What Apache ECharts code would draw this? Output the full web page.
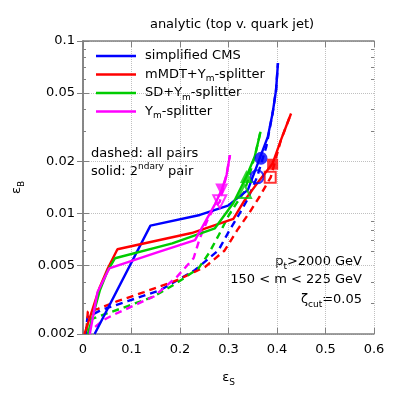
<!DOCTYPE html>
<html>
<head>
<meta charset="utf-8">
<script src="https://cdn.jsdelivr.net/npm/echarts@6/dist/echarts.min.js"></script>
<style>
html, body { margin: 0; padding: 0; background: #fff; }
#main { width: 399px; height: 399px; }
</style>
</head>
<body>
<div id="main"></div>
<script>
// values: [eps_S, eps_B]
const cmsSecondary = [[0.024, 0.002], [0.139, 0.0085], [0.241, 0.0098], [0.299, 0.0111], [0.340, 0.0137], [0.363, 0.0204], [0.381, 0.0278], [0.391, 0.0382], [0.398, 0.0519], [0.402, 0.0745]]
const cmsAll = [[0.006, 0.002], [0.009, 0.0025], [0.037, 0.00275], [0.092, 0.0031], [0.160, 0.0036], [0.231, 0.0047], [0.279, 0.0061], [0.300, 0.0078], [0.323, 0.0100], [0.340, 0.0122], [0.359, 0.0163], [0.378, 0.0244], [0.391, 0.0382], [0.398, 0.0519], [0.402, 0.0745]]
const mmdtSecondary = [[0.003, 0.002], [0.034, 0.0037], [0.051, 0.0048], [0.071, 0.0062], [0.224, 0.0077], [0.310, 0.0093], [0.333, 0.0119], [0.364, 0.0156], [0.391, 0.0195], [0.408, 0.0266], [0.429, 0.038]]
const mmdtAll = [[0.007, 0.0021], [0.010, 0.0027], [0.031, 0.0028], [0.071, 0.0031], [0.126, 0.0035], [0.194, 0.0041], [0.231, 0.0046], [0.252, 0.0049], [0.292, 0.0061], [0.318, 0.0080], [0.342, 0.0100], [0.364, 0.0125], [0.387, 0.0162], [0.408, 0.0266], [0.429, 0.038]]
const sdSecondary = [[0.010, 0.002], [0.035, 0.0036], [0.050, 0.0046], [0.066, 0.0055], [0.184, 0.0067], [0.272, 0.0082], [0.310, 0.0115], [0.337, 0.0164], [0.354, 0.0213], [0.366, 0.0298]]
const sdAll = [[0.008, 0.0021], [0.010, 0.0024], [0.044, 0.0026], [0.092, 0.0029], [0.146, 0.0033], [0.190, 0.0039], [0.238, 0.0048], [0.260, 0.0059], [0.280, 0.0075], [0.300, 0.0097], [0.315, 0.0113], [0.333, 0.0134], [0.354, 0.0213], [0.366, 0.0298]]
const ymSecondary = [[0.014, 0.002], [0.030, 0.0035], [0.054, 0.0048], [0.150, 0.0059], [0.231, 0.0070], [0.272, 0.0113], [0.286, 0.0137], [0.296, 0.0167], [0.303, 0.0218]]
const ymAll = [[0.025, 0.0022], [0.041, 0.0024], [0.065, 0.0026], [0.146, 0.0033], [0.194, 0.0043], [0.228, 0.0055], [0.241, 0.0072], [0.259, 0.0095], [0.272, 0.0109], [0.282, 0.0117], [0.296, 0.0167], [0.303, 0.0218]]

// working points: filled = 2ndary pair, open = all pairs
const filledMarks = [[0.367, 0.0209], [0.391, 0.0193], [0.337, 0.0164], [0.286, 0.0137]]
const openMarks = [[0.359, 0.0163], [0.386, 0.0162], [0.333, 0.0134], [0.282, 0.0117]]

const names = ['simplified CMS', 'mMDT+Ym-splitter', 'SD+Ym-splitter', 'Ym-splitter']
const colors = ['#0000ff', '#ff0000', '#00cc00', '#ff00ff']
const symbols = ['circle', 'rect', 'triangle', 'triangle']
const rotations = [0, 0, 0, 180]
const xTicks = [0, 0.1, 0.2, 0.3, 0.4, 0.5, 0.6]
const yMajor = [0.002, 0.005, 0.01, 0.02, 0.05, 0.1]
const yMinor = [0.003, 0.004, 0.006, 0.007, 0.008, 0.009, 0.03, 0.04, 0.06, 0.07, 0.08, 0.09]

const FONT = 'DejaVu Sans'
const BORDER = '#808080'
const subStyle = { fontSize: 9, fontFamily: FONT, color: '#000', verticalAlign: 'bottom' }

const chart = echarts.init(document.getElementById('main'), null, { renderer: 'canvas' })

function lineSeries (name, data, color, dashed) {
  return {
    name: name,
    type: 'line',
    data: data,
    symbol: 'none',
    showSymbol: false,
    animation: false,
    z: dashed ? 2 : 3,
    itemStyle: { color: color },
    lineStyle: { color: color, width: 2.4, type: dashed ? [7, 5] : 'solid' }
  }
}

function markSeries (i, pt, filled) {
  return {
    type: 'scatter',
    data: [pt],
    symbol: symbols[i],
    symbolRotate: rotations[i],
    symbolSize: symbols[i] === 'rect' ? 11 : 13,
    animation: false,
    z: 5,
    itemStyle: filled
      ? { color: colors[i] }
      : { color: 'rgba(0,0,0,0)', borderColor: colors[i], borderWidth: 2 }
  }
}

function yAxisOf (position, values, len, withLabels) {
  return {
    type: 'log',
    logBase: 10,
    min: 0.002,
    max: 0.1,
    position: position,
    axisLine: { show: withLabels, lineStyle: { color: BORDER, width: 1.5 } },
    axisTick: { show: true, inside: true, length: len, customValues: values, lineStyle: { color: BORDER } },
    axisLabel: {
      show: withLabels && position === 'left',
      customValues: values,
      margin: 8,
      fontFamily: FONT,
      fontSize: 13,
      color: '#000',
      formatter: v => String(+(+v).toPrecision(2))
    },
    splitLine: {
      show: withLabels && position === 'left',
      lineStyle: { color: '#c0c0c0', type: 'dotted', width: 1 }
    },
    name: withLabels && position === 'left' ? 'ε{s|B}' : '',
    nameLocation: 'middle',
    nameRotate: 90,
    nameGap: 57,
    nameTextStyle: { fontFamily: FONT, fontSize: 13, color: '#000', lineHeight: 18, rich: { s: subStyle } }
  }
}

const series = []
series.push(lineSeries('all CMS', cmsAll, colors[0], true))
series.push(lineSeries('all mMDT', mmdtAll, colors[1], true))
series.push(lineSeries('all SD', sdAll, colors[2], true))
series.push(lineSeries('all Ym', ymAll, colors[3], true))
series.push(lineSeries(names[0], cmsSecondary, colors[0], false))
series.push(lineSeries(names[1], mmdtSecondary, colors[1], false))
series.push(lineSeries(names[2], sdSecondary, colors[2], false))
series.push(lineSeries(names[3], ymSecondary, colors[3], false))
for (let i = 0; i < 4; i++) {
  series.push(markSeries(i, openMarks[i], false))
  series.push(markSeries(i, filledMarks[i], true))
}

chart.setOption({
  animation: false,
  backgroundColor: '#fff',
  title: {
    text: 'analytic (top v. quark jet)',
    left: 227,
    top: 13,
    textAlign: 'center',
    textStyle: { fontFamily: FONT, fontSize: 13, fontWeight: 'normal', color: '#000' }
  },
  legend: {
    orient: 'vertical',
    left: 96,
    top: 47,
    padding: 0,
    icon: 'rect',
    itemWidth: 40,
    itemHeight: 2.4,
    itemGap: 0.5,
    data: names,
    formatter: name => name.replace('Ym', 'Y{s|m}'),
    textStyle: {
      fontFamily: FONT,
      fontSize: 13,
      color: '#000',
      lineHeight: 18,
      padding: [0, 0, 0, 4],
      rich: { s: subStyle }
    }
  },
  grid: { left: 80, right: 25, top: 41, bottom: 65 },
  xAxis: [
    {
      type: 'value',
      min: 0,
      max: 0.6,
      interval: 0.1,
      position: 'bottom',
      axisLine: { lineStyle: { color: BORDER, width: 1.5 } },
      axisTick: { inside: true, length: 6, lineStyle: { color: BORDER } },
      axisLabel: { margin: 9, fontFamily: FONT, fontSize: 13, color: '#000', customValues: xTicks },
      splitLine: { show: true, lineStyle: { color: '#c0c0c0', type: 'dotted', width: 1 } },
      name: 'ε{s|S}',
      nameLocation: 'middle',
      nameGap: 35,
      nameTextStyle: { fontFamily: FONT, fontSize: 13, color: '#000', lineHeight: 18, rich: { s: subStyle } }
    },
    {
      type: 'value',
      min: 0,
      max: 0.6,
      interval: 0.1,
      position: 'top',
      axisLine: { show: true, lineStyle: { color: BORDER, width: 1.5 } },
      axisTick: { show: true, inside: true, length: 6, lineStyle: { color: BORDER } },
      axisLabel: { show: false },
      splitLine: { show: false }
    }
  ],
  yAxis: [
    yAxisOf('left', yMajor, 6, true),
    yAxisOf('right', yMajor, 6, true),
    yAxisOf('left', yMinor, 3, false),
    yAxisOf('right', yMinor, 3, false)
  ],
  graphic: [
    {
      type: 'text',
      left: 91,
      top: 147,
      style: { text: 'dashed: all pairs', fontFamily: FONT, fontSize: 13, fill: '#000' }
    },
    {
      type: 'text',
      left: 91,
      top: 162,
      style: {
        text: 'solid: 2{p|ndary} pair',
        fontFamily: FONT,
        fontSize: 13,
        lineHeight: 20,
        fill: '#000',
        rich: { p: { fontSize: 9, fontFamily: FONT, fill: '#000', verticalAlign: 'top' } }
      }
    },
    {
      type: 'text',
      right: 37,
      top: 253,
      style: {
        text: 'p{s|t}>2000 GeV',
        fontFamily: FONT,
        fontSize: 13,
        lineHeight: 18,
        fill: '#000',
        rich: { s: { fontSize: 9, fontFamily: FONT, fill: '#000', verticalAlign: 'bottom' } }
      }
    },
    {
      type: 'text',
      right: 37,
      top: 273,
      style: { text: '150 < m < 225 GeV', fontFamily: FONT, fontSize: 13, fill: '#000' }
    },
    {
      type: 'text',
      right: 37,
      top: 291,
      style: {
        text: 'ζ{s|cut}=0.05',
        fontFamily: FONT,
        fontSize: 13,
        lineHeight: 18,
        fill: '#000',
        rich: { s: { fontSize: 9, fontFamily: FONT, fill: '#000', verticalAlign: 'bottom' } }
      }
    }
  ],
  series: series
})
</script>
</body>
</html>
